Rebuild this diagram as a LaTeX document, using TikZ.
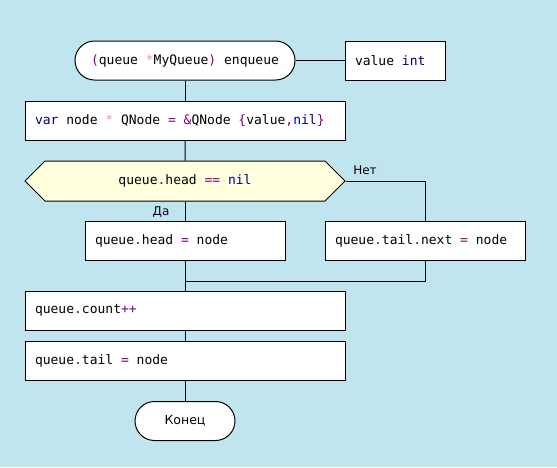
\documentclass[tikz,border=0pt]{standalone}
\usepackage{fontspec}
\setmainfont{DejaVu Sans}
\setmonofont{DejaVu Sans Mono}
\usetikzlibrary{shapes.symbols}

\definecolor{bgblue}{RGB}{193,229,238}
\definecolor{hexfill}{RGB}{255,255,221}
\definecolor{kwblue}{RGB}{0,0,128}
\definecolor{oppurple}{RGB}{128,0,128}
\definecolor{ptrpink}{RGB}{235,140,210}
\newcommand{\kw}[1]{\textcolor{kwblue}{#1}}
\newcommand{\op}[1]{\textcolor{oppurple}{#1}}
\newcommand{\ptr}[1]{\textcolor{ptrpink}{#1}}

\tikzset{
  code/.style={font=\ttfamily\fontsize{13}{16}\selectfont, execute at begin node={\spaceskip=0.602em\relax}},
  block/.style={code, draw, fill=white, minimum height=39pt, text width=#1, inner xsep=10pt, align=left},
  block/.default=300pt,
  terminal/.style={code, draw, fill=white, rounded corners=19.5pt, minimum height=39pt, minimum width=#1},
  decision/.style={code, draw, fill=hexfill, shape=signal, signal to=west and east, signal pointer angle=90, minimum width=320pt, minimum height=40pt},
  answer/.style={font=\fontsize{12}{14}\selectfont}
}

\begin{document}
\begin{tikzpicture}[x=1pt, y=-1pt, line width=1pt]
    \fill[bgblue] (0,0) rectangle (557,467);

    \node[terminal=220pt] (start) at (185,60.5) {\op{(}queue \ptr{*}MyQueue\op{)} enqueue};
    \node[block=80pt] (value) at (395,60.5) {value \kw{int}};

    \node[block] (qnode) at (185,120.5) {\kw{var} node \ptr{*} QNode \op{=} \op{\&}QNode \op{\{}value\op{,}\kw{nil}\op{\}}};
    \node[decision] (check) at (185,181) {queue\op{.}head \op{==} \kw{nil}};

    \node[block=180pt] (sethead) at (185,241) {queue\op{.}head \op{=} node};
    \node[block=180pt] (setnext) at (425,241) {queue\op{.}tail\op{.}next \op{=} node};
    \coordinate (join) at (185,281);

    \node[block] (count) at (185,310.5) {queue\op{.}count\op{++}};
    \node[block] (settail) at (185,360.5) {queue\op{.}tail \op{=} node};
    \node[terminal=100pt, font=\fontsize{12.5}{14}\selectfont] (finish) at (185,421) {Конец};

    \node[answer] (no) at (365,170) {Нет};
    \node[answer] (yes) at (161,212) {Да};

    \draw (start) -- (value);
    \draw (start) -- (qnode);
    \draw (qnode) -- (check);
    \draw (check) -- (sethead);
    \draw (check.east) -| (setnext);
    \draw (sethead) -- (join);
    \draw (setnext) |- (join);
    \draw (join) -- (count);
    \draw (count) -- (settail);
    \draw (settail) -- (finish);
\end{tikzpicture}
\end{document}
